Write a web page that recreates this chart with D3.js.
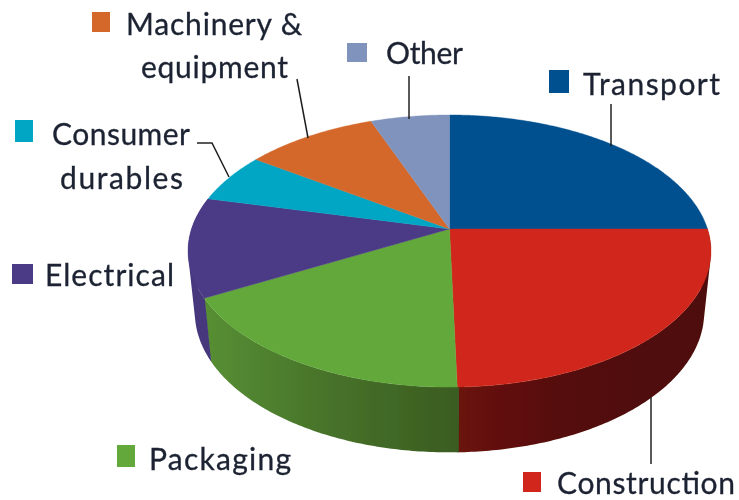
<!DOCTYPE html>
<html>
<head>
<meta charset="utf-8">
<script src="https://cdn.jsdelivr.net/npm/d3@7/dist/d3.min.js"></script>
<style>html,body{margin:0;padding:0;background:#fff}svg{display:block}</style>
</head>
<body>
<svg id="chart" width="739" height="500"></svg>
<script>
// Data (shares of the total)
const categories = ["Transport","Construction","Packaging","Electrical","Consumer durables","Machinery & equipment","Other"];
const shares = [25.0,24.6,17.4,11.8,5.9,9.6,5.7];

// Styles
const topColors = ["#03508f","#d0281c","#62a83a","#4b3b86","#00a6c4","#d3672b","#8093bc"];
const wallStops = [null,["#6a120b","#520f09","#4e0e08"],["#578f33","#47722a","#3a5c20"],["#46387e","#46387e","#46387e"],null,null,null];

// Perspective geometry of the two rims
const q = 0.162;
const topRim = {cx:449.5, cy:229, rx:258, ry:132.5};
const baseRim = {cx:449.5, cy:289.6, rx:251.3, ry:136.4};

// Annotation layout: text lines, swatch and leader
const labelLayout = [
  {i:0, swatch:[549,70,20,23], lines:[["Transport",583,95,137]], leader:[[611,104],[611,146]]},
  {i:1, swatch:[523,472,18,20], lines:[["Construction",557,493.5,178]], leader:[[651,397],[651,464]]},
  {i:2, swatch:[117,445,18,22], lines:[["Packaging",149,470,142]], leader:null},
  {i:3, swatch:[12,264,21,20], lines:[["Electrical",45,286,129]], leader:null},
  {i:4, swatch:[15,120,18,22], lines:[["Consumer",52,145,138],["durables",60,189,123]], leader:[[197,143],[212,143],[229,177]]},
  {i:5, swatch:[92,12,18,20], lines:[["Machinery &",126,35,176],["equipment",141,78,147]], leader:[[297,79],[308,138]]},
  {i:6, swatch:[347,43,20,19], lines:[["Other",386,64,77]], leader:[[409,76],[409,119]]}
];

const svg = d3.select("#chart");
const defs = svg.append("defs");
defs.append("filter").attr("id","soft").attr("x","-5%").attr("y","-5%").attr("width","110%").attr("height","110%")
  .append("feGaussianBlur").attr("stdDeviation",0.45);
const root = svg.append("g").attr("filter","url(#soft)");

const pie = d3.pie().sort(null).value(d=>d);
const arcs = pie(shares);

function project(rim, a){
  const x = Math.sin(a), y = -Math.cos(a), w = 1 - q*y;
  return [rim.cx + rim.rx*x/w, rim.cy + rim.ry*y/w];
}
function samples(a0, a1, step){
  const n = Math.max(2, Math.ceil(Math.abs(a1-a0)/step));
  return d3.range(n+1).map(k => a0 + (a1-a0)*k/n);
}
const line = d3.line();

// Walls: only the slices whose rim faces the viewer. One path made of thin
// quads, all wound the same way, so the union keeps the convex silhouette.
// Each wall runs a hair past its end so no background shows at the seams.
const front0 = Math.PI/2 - 0.2, front1 = 3*Math.PI/2 + 0.35, seam = 0.006;
arcs.forEach((d,i)=>{
  if(!wallStops[i]) return;
  const a0 = Math.max(d.startAngle - seam, front0), a1 = Math.min(d.endAngle, front1);
  const as = samples(a0,a1,0.012);
  const pts = as.map(a=>project(topRim,a)).concat(as.map(a=>project(baseRim,a)));
  const gid = "wall"+i;
  const xs = d3.extent(pts,p=>p[0]);
  const g = defs.append("linearGradient").attr("id",gid).attr("gradientUnits","userSpaceOnUse")
    .attr("x1",xs[0]).attr("x2",xs[1]).attr("y1",0).attr("y2",0);
  wallStops[i].forEach((c,k)=>g.append("stop").attr("offset",k/(wallStops[i].length-1)).attr("stop-color",c));
  const dStr = d3.pairs(as).map(([u,v])=>{
    const quad = [project(topRim,u),project(topRim,v),project(baseRim,v),project(baseRim,u)];
    if(d3.polygonArea(quad) < 0) quad.reverse();
    return line(quad)+"Z";
  }).join("");
  root.append("path").attr("d",dStr).attr("fill",`url(#${gid})`).attr("fill-rule","nonzero");
});

// Top face
arcs.forEach((d,i)=>{
  const pts = [[topRim.cx,topRim.cy]].concat(samples(d.startAngle,d.endAngle,0.01).map(a=>project(topRim,a)));
  root.append("path").attr("d",line(pts)+"Z").attr("fill",topColors[i])
    .attr("stroke",topColors[i]).attr("stroke-width",0.4);
});

// Leaders, swatches, labels
labelLayout.forEach(l=>{
  if(l.leader) root.append("path").attr("d",line(l.leader)).attr("fill","none")
    .attr("stroke","#1f1f1f").attr("stroke-width",1.5);
  root.append("rect").attr("x",l.swatch[0]).attr("y",l.swatch[1]).attr("width",l.swatch[2]).attr("height",l.swatch[3])
    .attr("fill",topColors[l.i]);
  l.lines.forEach(t=>{
    root.append("text").text(t[0]).attr("x",t[1]).attr("y",t[2])
      .attr("textLength",t[3]).attr("lengthAdjust","spacing")
      .attr("font-family","Lato, 'Open Sans', sans-serif").attr("font-size",30)
      .attr("fill","#1c2433").attr("stroke","#1c2433").attr("stroke-width",0.3);
  });
});
</script>
</body>
</html>
